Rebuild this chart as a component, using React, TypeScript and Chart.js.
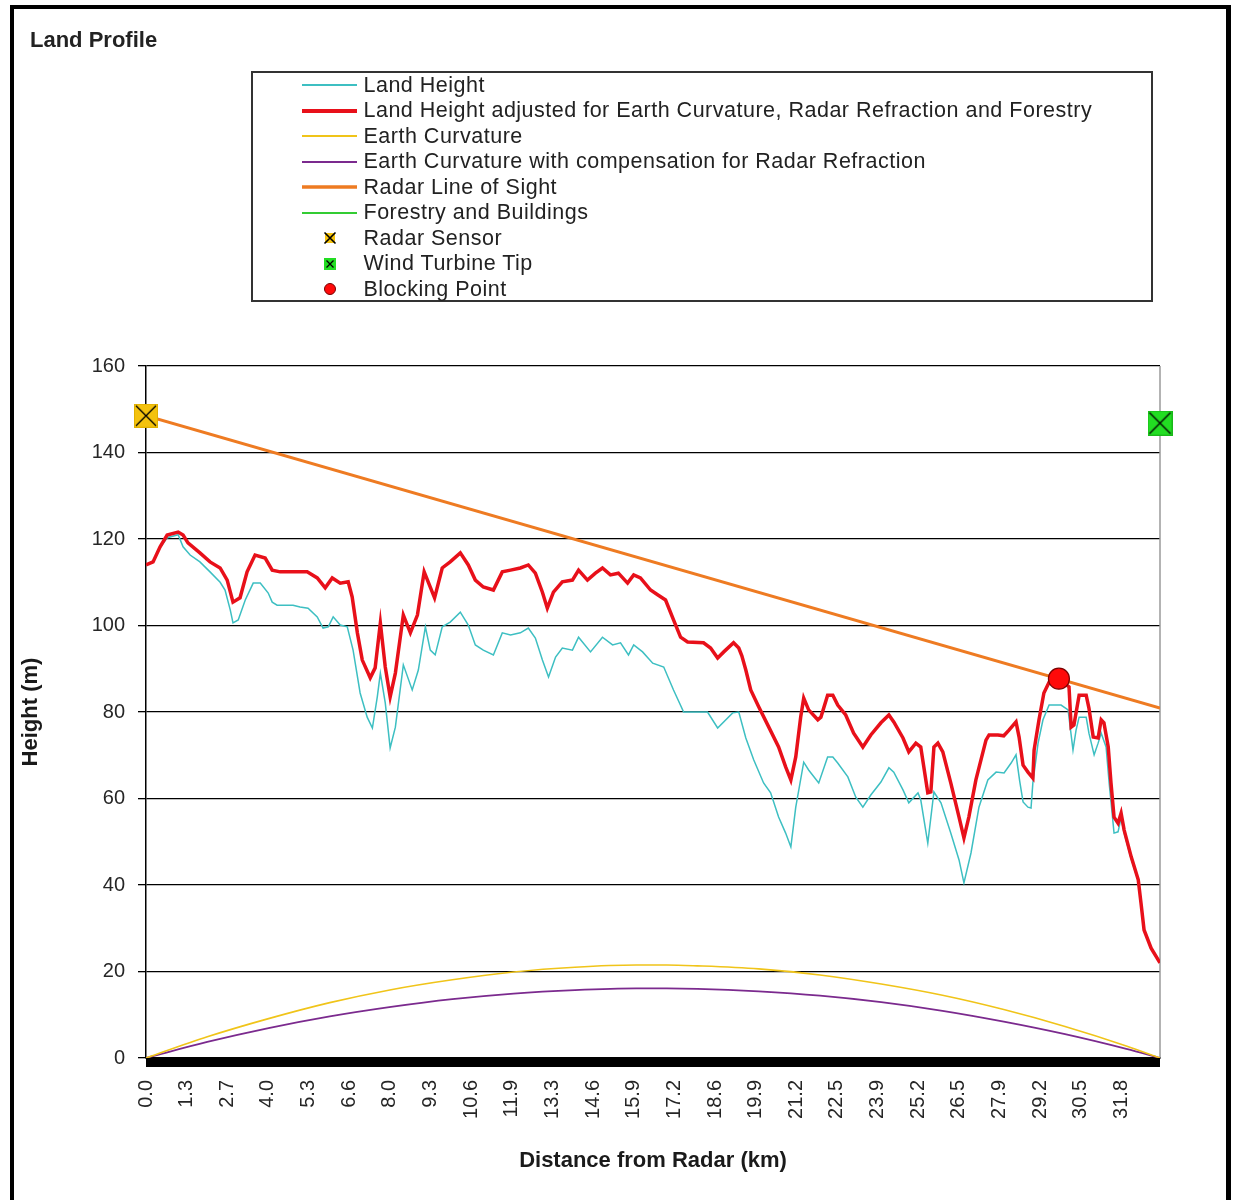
import React, { useEffect, useRef } from 'react';
import { Chart, registerables } from 'chart.js';

Chart.register(...registerables);

// ---------- data ----------
const TITLE = 'Land Profile';
const X_TITLE = 'Distance from Radar (km)';
const Y_TITLE = 'Height (m)';

const X_TICK_LABELS = ['0.0', '1.3', '2.7', '4.0', '5.3', '6.6', '8.0', '9.3', '10.6', '11.9', '13.3', '14.6', '15.9', '17.2', '18.6', '19.9', '21.2', '22.5', '23.9', '25.2', '26.5', '27.9', '29.2', '30.5', '31.8'];
const X_TICK_STEP_KM = 1.3267;
const X_MAX_KM = 33.1;
const Y_MIN = 0;
const Y_MAX = 160;
const Y_STEP = 20;

const NAME_LAND = 'Land Height';
const NAME_ADJ = 'Land Height adjusted for Earth Curvature, Radar Refraction and Forestry';
const NAME_CURVE = 'Earth Curvature';
const NAME_CURVE_REF = 'Earth Curvature with compensation for Radar Refraction';
const NAME_LOS = 'Radar Line of Sight';
const NAME_FOREST = 'Forestry and Buildings';
const NAME_RADAR = 'Radar Sensor';
const NAME_TURBINE = 'Wind Turbine Tip';
const NAME_BLOCK = 'Blocking Point';

// [distance km, height m]
const LAND_HEIGHT: [number, number][] = [
  [0, 114.0], [0.23, 114.7], [0.46, 118.0], [0.69, 120.3], [1.05, 121.0], [1.21, 118.2], [1.44, 116.3], [1.76, 114.7], [2.09, 112.4], [2.42, 110.0],
  [2.58, 108.2], [2.75, 103.6], [2.84, 100.6], [3.01, 101.3], [3.24, 105.9], [3.50, 109.8], [3.73, 109.8], [3.99, 107.5], [4.12, 105.4], [4.28, 104.7],
  [4.80, 104.7], [5.03, 104.3], [5.29, 104.0], [5.59, 102.0], [5.78, 99.4], [5.95, 99.7], [6.11, 102.0], [6.34, 100.1], [6.57, 99.7], [6.76, 94.3],
  [6.99, 84.4], [7.22, 78.8], [7.39, 76.3], [7.55, 83.5], [7.65, 89.0], [7.81, 82.1], [7.97, 71.7], [8.14, 76.5], [8.40, 90.9], [8.69, 85.1],
  [8.89, 89.7], [9.12, 99.7], [9.28, 94.3], [9.44, 93.2], [9.67, 99.7], [9.93, 100.8], [10.26, 103.1], [10.52, 100.1], [10.75, 95.5], [11.01, 94.3],
  [11.34, 93.2], [11.63, 98.3], [11.90, 97.8], [12.22, 98.3], [12.48, 99.4], [12.71, 97.1], [12.94, 92.0], [13.14, 88.1], [13.37, 92.7], [13.59, 94.8],
  [13.92, 94.3], [14.12, 97.3], [14.51, 93.9], [14.90, 97.3], [15.23, 95.5], [15.49, 96.0], [15.75, 93.2], [15.92, 95.5], [16.21, 93.9], [16.54, 91.3],
  [16.90, 90.4], [17.22, 85.1], [17.55, 80.0], [18.33, 80.0], [18.66, 76.3], [19.15, 79.8], [19.35, 80.0], [19.58, 74.0], [19.84, 68.9], [20.16, 63.6],
  [20.39, 61.3], [20.65, 55.7], [20.88, 52.0], [21.05, 48.8], [21.21, 58.0], [21.47, 68.4], [21.63, 66.6], [21.96, 63.6], [22.25, 69.6], [22.42, 69.6],
  [22.58, 68.2], [22.91, 65.0], [23.17, 60.3], [23.40, 58.0], [23.66, 60.8], [23.99, 63.8], [24.25, 67.1], [24.41, 66.1], [24.71, 62.0], [24.90, 59.0],
  [25.20, 61.3], [25.29, 59.7], [25.52, 49.7], [25.72, 61.5], [25.95, 59.0], [26.27, 52.0], [26.54, 45.8], [26.70, 40.5], [26.93, 47.4], [27.19, 58.0],
  [27.48, 64.3], [27.75, 66.1], [28.01, 65.9], [28.24, 68.2], [28.40, 70.1], [28.52, 64.0], [28.63, 59.2], [28.79, 58.0], [28.89, 57.8], [28.95, 63.6],
  [29.12, 72.8], [29.28, 78.2], [29.48, 81.6], [29.87, 81.6], [30.10, 80.5], [30.26, 71.2], [30.36, 75.8], [30.46, 78.8], [30.69, 78.8], [30.78, 75.1],
  [30.95, 70.1], [31.08, 72.8], [31.18, 75.1], [31.34, 71.9], [31.44, 63.6], [31.60, 52.0], [31.73, 52.3], [31.83, 55.5], [31.93, 52.0], [32.16, 46.0],
  [32.39, 41.0], [32.48, 35.6], [32.58, 29.5], [32.81, 25.3], [33.10, 22.0],
];

const LAND_ADJUSTED: [number, number][] = [
  [0, 114.0], [0.23, 114.7], [0.46, 118.2], [0.69, 120.9], [1.05, 121.6], [1.21, 120.9], [1.37, 119.1], [1.76, 116.8], [2.09, 114.7], [2.42, 113.3],
  [2.65, 110.5], [2.84, 105.4], [3.07, 106.4], [3.30, 112.4], [3.56, 116.3], [3.89, 115.6], [4.12, 112.8], [4.38, 112.4], [4.93, 112.4], [5.26, 112.4],
  [5.59, 111.0], [5.85, 108.7], [6.08, 111.0], [6.34, 109.8], [6.60, 110.1], [6.73, 106.6], [6.90, 98.3], [7.06, 92.0], [7.32, 87.9], [7.48, 90.2],
  [7.65, 100.6], [7.81, 90.4], [7.97, 83.5], [8.14, 89.0], [8.40, 102.4], [8.63, 98.3], [8.86, 102.4], [9.08, 112.4], [9.42, 106.4], [9.67, 113.3],
  [9.93, 114.7], [10.26, 116.8], [10.52, 114.0], [10.75, 110.5], [11.01, 108.9], [11.34, 108.2], [11.63, 112.4], [11.90, 112.8], [12.22, 113.3], [12.48, 114.0],
  [12.71, 112.1], [12.94, 107.7], [13.10, 104.0], [13.30, 107.7], [13.59, 110.1], [13.92, 110.5], [14.12, 112.8], [14.41, 110.5], [14.67, 112.1], [14.90, 113.3],
  [15.16, 111.7], [15.42, 112.1], [15.72, 109.8], [15.92, 111.7], [16.14, 111.0], [16.47, 108.2], [16.70, 107.1], [16.96, 105.9], [17.22, 101.3], [17.45, 97.3],
  [17.68, 96.2], [18.20, 96.0], [18.43, 94.8], [18.66, 92.5], [18.86, 93.9], [19.18, 96.0], [19.35, 94.8], [19.45, 93.0], [19.58, 89.7], [19.74, 85.1],
  [20.00, 81.2], [20.33, 76.5], [20.65, 71.9], [20.88, 67.3], [21.05, 64.3], [21.21, 69.6], [21.37, 78.8], [21.47, 83.2], [21.63, 80.5], [21.93, 78.2],
  [22.03, 78.8], [22.25, 83.9], [22.42, 83.9], [22.58, 81.6], [22.84, 79.3], [23.10, 75.1], [23.40, 71.9], [23.66, 74.7], [23.99, 77.5], [24.25, 79.3],
  [24.41, 77.7], [24.71, 74.0], [24.90, 70.8], [25.13, 72.8], [25.29, 71.9], [25.52, 61.3], [25.62, 61.5], [25.72, 71.9], [25.85, 72.8], [26.01, 70.8],
  [26.27, 63.6], [26.54, 55.7], [26.70, 50.9], [26.86, 55.7], [27.09, 64.3], [27.42, 73.5], [27.52, 74.7], [27.81, 74.7], [28.00, 74.5], [28.17, 75.8],
  [28.40, 77.7], [28.50, 74.2], [28.63, 67.7], [28.79, 66.1], [28.95, 64.7], [28.99, 71.2], [29.15, 78.2], [29.31, 84.4], [29.48, 86.9], [29.80, 87.6],
  [30.13, 85.8], [30.20, 76.5], [30.29, 77.0], [30.46, 83.9], [30.69, 83.9], [30.78, 80.9], [30.92, 74.2], [31.08, 74.0], [31.18, 78.2], [31.27, 77.5],
  [31.41, 71.9], [31.50, 63.6], [31.60, 55.7], [31.73, 54.3], [31.83, 56.6], [31.93, 52.7], [32.16, 46.5], [32.39, 41.2], [32.48, 35.8], [32.58, 29.6],
  [32.81, 25.4], [33.10, 22.0],
];

const EARTH_CURVATURE: [number, number][] = [
  [0, 0], [2, 4.9], [4, 9.1], [6, 12.8], [8, 15.8], [10, 18.1], [12, 19.9], [14, 21.0], [16, 21.5], [17, 21.5],
  [18, 21.3], [20, 20.6], [22, 19.2], [24, 17.1], [26, 14.5], [28, 11.2], [30, 7.3], [32, 2.8], [33.1, 0],
];

const EARTH_CURVATURE_REFRACTED: [number, number][] = [
  [0, 0], [2, 3.7], [4, 6.9], [6, 9.6], [8, 11.8], [10, 13.6], [12, 14.9], [14, 15.7], [16, 16.1], [17, 16.1],
  [18, 16.0], [20, 15.4], [22, 14.4], [24, 12.9], [26, 10.9], [28, 8.4], [30, 5.5], [32, 2.1], [33.1, 0],
];

const RADAR_LINE_OF_SIGHT: [number, number][] = [[0, 148.5], [33.1, 80.9]];
const FORESTRY_AND_BUILDINGS: [number, number][] = [];
const RADAR_SENSOR: [number, number][] = [[0, 148.5]];
const WIND_TURBINE_TIP: [number, number][] = [[33.1, 146.8]];
const BLOCKING_POINT: [number, number][] = [[29.8, 87.7]];

// ---------- styles ----------
const FONT = '"Liberation Sans", Arial, Helvetica, sans-serif';
const C_LAND = '#3dbfc2';
const C_ADJ = '#e8101a';
const C_CURVE = '#f0c419';
const C_CURVE_REF = '#7b2a8e';
const C_LOS = '#ee7b22';
const C_FOREST = '#33cc33';
const C_RADAR = '#f4c20d';
const C_TURBINE = '#22dd22';
const C_BLOCK = '#ff0a0a';
const TEXT = '#262626';

function makeSquareX(size: number, fill: string, edge: string) {
  const c = document.createElement('canvas');
  c.width = size;
  c.height = size;
  const g = c.getContext('2d')!;
  g.fillStyle = fill;
  g.fillRect(0, 0, size, size);
  g.strokeStyle = edge;
  g.lineWidth = 1;
  g.strokeRect(0.5, 0.5, size - 1, size - 1);
  g.strokeStyle = '#000';
  g.lineWidth = 1.3;
  g.beginPath();
  g.moveTo(2, 2);
  g.lineTo(size - 2, size - 2);
  g.moveTo(size - 2, 2);
  g.lineTo(2, size - 2);
  g.stroke();
  return c;
}

const toXY = (pts: [number, number][]) => pts.map(([x, y]) => ({ x, y }));

const plotFrame = {
  id: 'plotFrame',
  beforeDatasetsDraw(chart: any) {
    const { ctx, chartArea } = chart;
    const { left, right, top, bottom } = chartArea;
    ctx.save();
    ctx.strokeStyle = '#9a9a9a';
    ctx.lineWidth = 1.5;
    ctx.beginPath();
    ctx.moveTo(right, top);
    ctx.lineTo(right, bottom);
    ctx.stroke();
    ctx.fillStyle = '#000';
    ctx.fillRect(left, bottom, right - left, 9);
    ctx.restore();
  },
};

type LegendRow = { name: string; kind: 'line' | 'radar' | 'turbine' | 'block'; color: string; width?: number };
const LEGEND_ROWS: LegendRow[] = [
  { name: NAME_LAND, kind: 'line', color: C_LAND, width: 2 },
  { name: NAME_ADJ, kind: 'line', color: C_ADJ, width: 4 },
  { name: NAME_CURVE, kind: 'line', color: C_CURVE, width: 2 },
  { name: NAME_CURVE_REF, kind: 'line', color: C_CURVE_REF, width: 2 },
  { name: NAME_LOS, kind: 'line', color: C_LOS, width: 3.5 },
  { name: NAME_FOREST, kind: 'line', color: C_FOREST, width: 2 },
  { name: NAME_RADAR, kind: 'radar', color: C_RADAR },
  { name: NAME_TURBINE, kind: 'turbine', color: C_TURBINE },
  { name: NAME_BLOCK, kind: 'block', color: C_BLOCK },
];

function Swatch({ row }: { row: LegendRow }) {
  let inner: React.ReactNode = null;
  if (row.kind === 'line') {
    inner = <line x1={2} y1={10} x2={57} y2={10} stroke={row.color} strokeWidth={row.width} />;
  } else if (row.kind === 'radar') {
    inner = (
      <g>
        <rect x={25} y={5} width={10} height={10} fill={row.color} />
        <path d="M24.5 4.5 L35.5 15.5 M35.5 4.5 L24.5 15.5" stroke="#000" strokeWidth={1.6} />
      </g>
    );
  } else if (row.kind === 'turbine') {
    inner = (
      <g>
        <rect x={24} y={4} width={12} height={12} fill={row.color} />
        <path d="M26.5 6.5 L33.5 13.5 M33.5 6.5 L26.5 13.5" stroke="#000" strokeWidth={1.3} />
      </g>
    );
  } else {
    inner = <circle cx={30} cy={10} r={5.5} fill={row.color} stroke="#700" strokeWidth={1} />;
  }
  return (
    <svg width={60} height={20} style={{ position: 'absolute', left: 300, top: 0, display: 'block' }}>
      {inner}
    </svg>
  );
}

export default function App() {
  const ref = useRef<HTMLCanvasElement>(null);

  useEffect(() => {
    const canvas = ref.current;
    if (!canvas) return;
    const radarImg = makeSquareX(24, C_RADAR, '#e0b000');
    const turbineImg = makeSquareX(25, C_TURBINE, '#19b819');

    const lineBase = { pointRadius: 0, pointHoverRadius: 0, tension: 0, fill: false };

    const chart = new Chart(canvas, {
      type: 'line',
      data: {
        datasets: [
          { label: NAME_RADAR, data: toXY(RADAR_SENSOR), showLine: false, pointStyle: radarImg as any, pointRadius: 12, pointHoverRadius: 12, order: 0, clip: false as any },
          { label: NAME_TURBINE, data: toXY(WIND_TURBINE_TIP), showLine: false, pointStyle: turbineImg as any, pointRadius: 12, pointHoverRadius: 12, order: 0, clip: false as any },
          { label: NAME_BLOCK, data: toXY(BLOCKING_POINT), showLine: false, pointStyle: 'circle', pointRadius: 10.5, pointHoverRadius: 10.5, pointBackgroundColor: C_BLOCK, pointBorderColor: '#7a0000', pointBorderWidth: 1.2, order: 0, clip: false as any },
          { ...lineBase, label: NAME_LOS, data: toXY(RADAR_LINE_OF_SIGHT), borderColor: C_LOS, borderWidth: 3, order: 1 },
          { ...lineBase, label: NAME_ADJ, data: toXY(LAND_ADJUSTED), borderColor: C_ADJ, borderWidth: 3.5, order: 2 },
          { ...lineBase, label: NAME_LAND, data: toXY(LAND_HEIGHT), borderColor: C_LAND, borderWidth: 1.5, order: 3 },
          { ...lineBase, label: NAME_FOREST, data: toXY(FORESTRY_AND_BUILDINGS), borderColor: C_FOREST, borderWidth: 1.5, order: 4 },
          { ...lineBase, label: NAME_CURVE, data: toXY(EARTH_CURVATURE), borderColor: C_CURVE, borderWidth: 1.6, order: 5, tension: 0.4, cubicInterpolationMode: 'monotone' as const },
          { ...lineBase, label: NAME_CURVE_REF, data: toXY(EARTH_CURVATURE_REFRACTED), borderColor: C_CURVE_REF, borderWidth: 1.8, order: 5, tension: 0.4, cubicInterpolationMode: 'monotone' as const },
        ] as any,
      },
      options: {
        animation: false,
        responsive: false,
        devicePixelRatio: 1,
        events: [],
        layout: { padding: { left: 0, top: 366, right: 73, bottom: 0 } },
        plugins: {
          legend: { display: false },
          tooltip: { enabled: false },
          title: { display: false },
        },
        scales: {
          x: {
            type: 'linear',
            min: 0,
            max: X_MAX_KM,
            afterBuildTicks: (scale: any) => {
              scale.ticks = X_TICK_LABELS.map((_, i) => ({ value: i * X_TICK_STEP_KM }));
            },
            afterFit: (scale: any) => {
              scale.height = 142;
            },
            grid: { display: false, drawTicks: false },
            border: { display: true, color: '#000', width: 1.5 },
            ticks: {
              autoSkip: false,
              minRotation: 90,
              maxRotation: 90,
              padding: 22,
              color: TEXT,
              font: { family: FONT, size: 20 },
              callback: (_v: any, i: number) => X_TICK_LABELS[i],
            },
            title: {
              display: true,
              text: X_TITLE,
              color: '#1a1a1a',
              font: { family: FONT, size: 22, weight: 'bold' },
              padding: { top: 0, bottom: 26 },
            },
          },
          y: {
            min: Y_MIN,
            max: Y_MAX,
            afterFit: (scale: any) => {
              scale.width = 146;
            },
            grid: { color: '#000', lineWidth: 1.3, drawTicks: true, tickLength: 8 },
            border: { display: true, color: '#000', width: 1.5 },
            ticks: {
              stepSize: Y_STEP,
              padding: 13,
              color: TEXT,
              font: { family: FONT, size: 20 },
            },
            title: {
              display: true,
              text: Y_TITLE,
              color: '#1a1a1a',
              font: { family: FONT, size: 22, weight: 'bold' },
              padding: { top: 18, bottom: 0 },
            },
          },
        },
      } as any,
      plugins: [plotFrame],
    });

    return () => chart.destroy();
  }, []);

  return (
    <div style={{ position: 'absolute', left: 0, top: 0, width: 1233, height: 1200, overflow: 'hidden', background: '#fff', fontFamily: FONT }}>
      <canvas ref={ref} width={1233} height={1200} style={{ position: 'absolute', left: 0, top: 0, width: 1233, height: 1200 }} />
      <div
        style={{
          position: 'absolute', left: 30, top: 29, fontSize: 22, lineHeight: '22px', fontWeight: 'bold', color: '#222', whiteSpace: 'nowrap',
        }}
      >
        {TITLE}
      </div>
      <div
        style={{
          position: 'absolute', left: 251, top: 71, width: 902, height: 231, border: '2px solid #333', boxSizing: 'border-box', background: '#fff',
        }}
      />
      {LEGEND_ROWS.map((row, i) => (
        <div key={row.name} style={{ position: 'absolute', left: 0, top: 72.5 + i * 25.5, width: 1233, height: 25.5 }}>
          <div style={{ position: 'absolute', left: 0, top: 2.75, width: 1233, height: 20 }}>
            <Swatch row={row} />
          </div>
          <div
            style={{
              position: 'absolute', left: 363.5, top: 0, fontSize: 21.5, lineHeight: '25.5px', letterSpacing: '0.5px', color: '#222', whiteSpace: 'nowrap',
            }}
          >
            {row.name}
          </div>
        </div>
      ))}
      <div
        style={{
          position: 'absolute', left: 10, top: 5, width: 1221, height: 1200, borderTop: '4px solid #000', borderLeft: '4px solid #000', borderRight: '5px solid #000', boxSizing: 'border-box', pointerEvents: 'none',
        }}
      />
    </div>
  );
}
